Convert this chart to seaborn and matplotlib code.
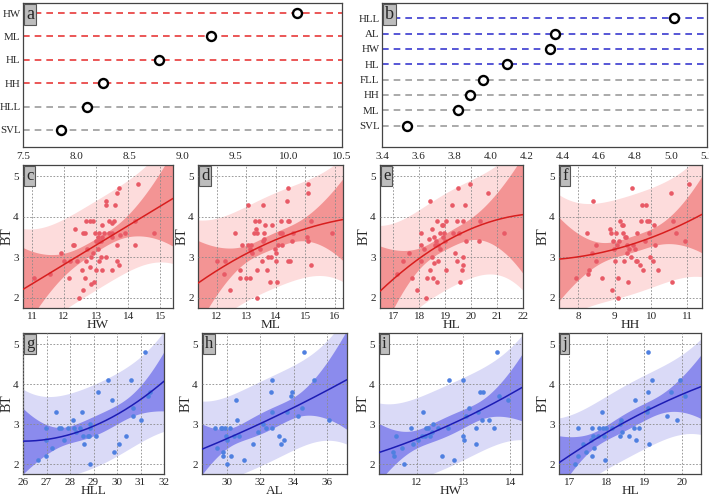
import numpy as np
import seaborn as sns
import matplotlib.pyplot as plt
from matplotlib.ticker import MultipleLocator

# ---- panel a / b : dot charts ----
a_names = ["HW", "ML", "HL", "HH", "HLL", "SVL"]
a_vals = [10.08, 9.27, 8.78, 8.25, 8.10, 7.86]
b_names = ["HLL", "AL", "HW", "HL", "FLL", "HH", "ML", "SVL"]
b_vals = [5.02, 4.36, 4.33, 4.09, 3.96, 3.89, 3.82, 3.54]

# ---- red group (c-f), BT against each trait ----
c_x = [11.05, 11.55, 11.9, 12.0, 12.15, 12.2, 12.28, 12.32, 12.35, 12.4, 12.47, 12.55, 12.6, 12.6,
       12.65, 12.65, 12.7, 12.7, 12.72, 12.8, 12.8, 12.85, 12.85, 12.9, 12.9, 12.95, 12.98, 13.0,
       13.0, 13.05, 13.05, 13.1, 13.1, 13.1, 13.15, 13.15, 13.2, 13.25, 13.3, 13.3, 13.2, 13.2,
       13.3, 13.4, 13.4, 13.5, 13.5, 13.5, 13.5, 13.55, 13.6, 13.65, 13.65, 13.65, 13.7, 13.7,
       13.75, 13.9, 14.3, 14.2, 14.2, 14.8]
c_y = [2.5, 2.6, 3.1, 2.9, 2.5, 2.9, 3.3, 3.3, 3.7, 2.9, 2.0, 2.7, 2.2, 3.6,
       3.6, 2.5, 3.9, 2.9, 3.2, 3.9, 2.75, 3.0, 2.35, 3.9, 3.1, 2.4, 3.6, 2.7,
       3.4, 3.2, 3.5, 3.4, 3.6, 2.9, 3.0, 3.4, 3.5, 3.6, 4.3, 3.0, 2.7, 3.8,
       4.4, 3.9, 3.6, 2.7, 3.6, 3.85, 3.5, 3.9, 4.3, 4.6, 3.3, 2.9, 2.8, 4.7,
       3.55, 3.6, 4.8, 3.9, 3.3, 3.6]

d_x = [12.0, 12.26, 12.28, 12.45, 12.62, 12.8, 12.8, 12.85, 13.0, 13.05, 13.07, 13.13, 13.13,
       13.15, 13.16, 13.18, 13.26, 13.3, 13.33, 13.35, 13.37, 13.38, 13.44, 13.46, 13.54, 13.58,
       13.58, 13.6, 13.6, 13.63, 13.7, 13.75, 13.8, 13.83, 13.88, 13.97, 14.0, 14.0, 14.03, 14.08,
       14.15, 14.17, 14.2, 14.22, 14.37, 14.4, 14.4, 14.4, 14.45, 14.48, 14.53, 14.57, 15.04,
       15.08, 15.1, 15.1, 15.19, 15.2, 15.9]
d_y = [2.9, 2.6, 2.9, 2.2, 3.6, 2.7, 2.5, 3.3, 2.5, 4.3, 3.3, 2.5, 3.2,
       3.3, 3.15, 3.1, 3.6, 3.9, 3.7, 2.7, 2.0, 3.6, 3.9, 3.2, 2.9, 3.4,
       4.3, 3.45, 3.6, 3.8, 2.7, 3.0, 2.4, 3.0, 3.8, 3.2, 2.9, 3.1, 2.4, 3.3,
       3.6, 3.9, 3.3, 3.6, 4.4, 4.7, 3.9, 2.9, 3.9, 2.9, 3.4, 3.6, 3.5,
       3.4, 4.8, 4.6, 3.9, 2.8, 3.6]

e_x = [17.13, 17.37, 17.59, 17.72, 17.90, 18.08, 18.08, 18.08, 18.17, 18.26, 18.32, 18.39, 18.42,
       18.42, 18.48, 18.51, 18.55, 18.58, 18.58, 18.61, 18.65, 18.67, 18.70, 18.74, 18.74, 18.79,
       18.81, 18.88, 18.90, 18.93, 18.97, 18.99, 19.03, 19.05, 19.27, 19.32, 19.38, 19.45, 19.47,
       19.50, 19.54, 19.59, 19.64, 19.67, 19.70, 19.70, 19.76, 19.81, 19.94, 20.32, 20.35, 20.65,
       21.27]
e_y = [2.6, 2.9, 3.1, 2.5, 2.2, 2.9, 3.6, 3.3, 3.2, 2.0, 2.5, 3.45, 4.4,
       2.7, 3.7, 3.0, 2.5, 3.5, 2.85, 3.3, 3.4, 2.4, 3.9, 3.3, 2.9, 3.2,
       3.6, 3.8, 3.5, 3.8, 3.6, 3.4, 3.9, 2.7, 4.3, 3.6, 3.1, 2.9, 3.9,
       4.7, 3.6, 2.4, 2.7, 2.8, 3.9, 3.0, 4.3, 3.4, 4.8, 3.4, 3.9, 4.6,
       3.6]

f_x = [7.94, 8.23, 8.28, 8.3, 8.37, 8.41, 8.49, 8.49, 8.64, 8.87, 8.9, 8.92, 8.96, 8.98, 9.0,
       9.05, 9.07, 9.1, 9.1, 9.13, 9.15, 9.19, 9.22, 9.24, 9.26, 9.28, 9.31, 9.33, 9.35, 9.36,
       9.4, 9.45, 9.47, 9.51, 9.56, 9.59, 9.6, 9.62, 9.7, 9.72, 9.74, 9.79, 9.83, 9.86, 9.88,
       9.93, 9.95, 9.97, 10.05, 10.08, 10.11, 10.2, 10.55, 10.57, 10.61, 10.69, 10.92, 11.03]
f_y = [2.5, 3.6, 2.6, 2.7, 3.1, 4.4, 3.3, 2.9, 2.5, 3.7, 3.6, 2.2, 3.4, 3.2, 2.9,
       3.6, 3.3, 2.0, 2.5, 3.4, 3.9, 3.8, 3.6, 3.8, 2.9, 3.5, 3.5, 3.3, 3.1, 2.4,
       3.2, 3.0, 4.7, 3.3, 3.2, 2.9, 3.6, 2.9, 2.8, 3.9, 4.3, 2.7, 3.4, 4.3, 3.9,
       3.6, 3.9, 3.0, 2.9, 3.8, 3.3, 2.7, 4.6, 2.4, 3.9, 3.6, 3.4, 4.8]

# ---- blue group (g-j) ----
g_x = [26.64, 26.96, 26.99, 26.99, 27.25, 27.42, 27.53, 27.63, 27.73, 27.91, 28.13, 28.16,
       28.24, 28.41, 28.52, 28.55, 28.58, 28.77, 28.81, 28.84, 28.84, 28.87, 29.09, 29.19,
       29.62, 29.8, 29.87, 30.09, 30.4, 30.61, 30.68, 30.7, 31.04, 31.18, 31.32, 31.42]
g_y = [2.1, 2.2, 2.9, 2.6, 2.4, 3.3, 2.9, 2.9, 2.6, 2.9, 3.1, 2.9,
       2.8, 2.9, 3.3, 2.7, 2.5, 2.7, 2.7, 2.0, 3.0, 2.9, 2.7, 3.8,
       4.1, 3.6, 2.3, 2.5, 2.7, 4.1, 3.2, 3.4, 3.1, 4.8, 3.7, 3.8]

h_x = [29.3, 29.4, 29.66, 29.74, 29.8, 29.8, 29.9, 29.94, 30.0, 30.0, 30.2, 30.26, 30.46,
       30.56, 30.6, 30.74, 31.06, 31.6, 31.9, 32.2, 32.34, 32.66, 32.7, 32.74, 32.74, 33.1,
       33.26, 33.4, 33.6, 33.86, 33.9, 34.26, 34.5, 34.6, 35.2, 36.1]
h_y = [2.9, 2.4, 2.9, 2.9, 2.3, 2.2, 2.9, 2.7, 2.0, 2.6, 2.9, 2.2, 2.7,
       3.6, 3.1, 2.7, 2.1, 2.5, 2.8, 3.0, 2.9, 3.8, 2.9, 4.1, 3.3, 2.7,
       2.5, 2.6, 3.3, 3.7, 3.8, 3.2, 3.4, 4.8, 4.1, 3.1]

i_x = [11.49, 11.53, 11.56, 11.68, 11.73, 11.89, 11.93, 12.04, 12.11, 12.14, 12.18, 12.2,
       12.25, 12.28, 12.32, 12.35, 12.46, 12.55, 12.67, 12.69, 12.81, 12.99, 13.0, 13.02,
       13.05, 13.13, 13.27, 13.27, 13.31, 13.36, 13.41, 13.39, 13.55, 13.66, 13.71, 13.77, 13.96]
i_y = [2.3, 2.2, 2.7, 2.4, 2.0, 2.9, 2.5, 2.6, 2.7, 3.3, 2.7, 2.9,
       2.9, 2.7, 2.8, 3.0, 2.9, 2.2, 2.9, 4.1, 2.1, 4.1, 2.7, 2.6,
       3.2, 3.4, 2.5, 2.9, 3.3, 3.8, 3.8, 3.1, 3.1, 2.9, 4.8, 3.7, 3.6]

j_x = [17.15, 17.24, 17.24, 17.37, 17.45, 17.58, 17.6, 17.6, 17.62, 17.66, 17.77, 17.8, 17.86,
       17.91, 17.93, 17.95, 17.98, 18.13, 18.34, 18.35, 18.37, 18.4, 18.6, 18.73, 18.75, 18.78,
       18.87, 19.08, 19.11, 19.11, 19.11, 19.14, 19.2, 19.62, 19.73, 19.89, 19.97, 20.09]
j_y = [2.0, 2.2, 2.9, 2.5, 2.3, 2.6, 2.2, 2.9, 2.7, 2.4, 2.7, 2.9, 3.3,
       2.9, 2.7, 2.1, 2.9, 2.9, 3.0, 2.7, 3.1, 2.8, 2.7, 2.9, 3.6, 2.6,
       2.9, 3.3, 4.8, 3.8, 3.4, 2.5, 4.1, 3.2, 3.8, 3.1, 4.1, 3.7]

RED = dict(light="#fddcdc", dark="#f39494", line="#d81e1e", dot="#e85a66")
BLUE = dict(light="#dadaf7", dark="#8b8bed", line="#1c1cb4", dot="#4f80e0")

sns.set_style("white")
plt.rcParams['font.family'] = ['Liberation Serif', 'DejaVu Serif']

W, H = 709, 497
fig = plt.figure(figsize=(W / 100, H / 100), dpi=100)


def rect(x0, y0, x1, y1):
    return [x0 / W, 1 - y1 / H, (x1 - x0) / W, (y1 - y0) / H]


def tag(ax, s, fs):
    ax.annotate(s, xy=(0, 1), xycoords='axes fraction', xytext=(2.2, -2), textcoords='offset points',
                ha='left', va='top', fontsize=fs, zorder=10,
                bbox=dict(boxstyle='square,pad=0.12', fc='#bdbdbd', ec='#555555', lw=0.8))


def style_spines(ax):
    for sp in ax.spines.values():
        sp.set_color('#444444')
        sp.set_linewidth(0.9)


def dot_panel(ax, names, vals, n_hi, hi, xlim, ylim, major, minor, label):
    pos = np.arange(len(names))[::-1]
    for i, p in enumerate(pos):
        ax.axhline(p, color=hi if i < n_hi else '#9c9c9c', ls=(0, (4, 3)), lw=1.2, zorder=1)
    sns.scatterplot(x=vals, y=pos, ax=ax, s=42, color='white', edgecolor='black',
                    linewidth=1.7, zorder=3)
    ax.set_xlim(*xlim)
    ax.set_ylim(*ylim)
    ax.set_yticks(pos)
    ax.set_yticklabels(names)
    ax.xaxis.set_major_locator(MultipleLocator(major))
    ax.xaxis.set_minor_locator(MultipleLocator(minor))
    ax.tick_params(axis='x', which='major', length=2.5, width=0.6, pad=1, labelsize=8)
    ax.tick_params(axis='x', which='minor', length=1.5, width=0.5)
    ax.tick_params(axis='y', length=1, width=0.6, pad=0.8, labelsize=7.8)
    style_spines(ax)
    tag(ax, label, 13)


def fit_panel(ax, x, y, col, xlim, xstep, xlabel, label):
    x = np.asarray(x, float)
    y = np.asarray(y, float)
    X = np.column_stack([np.ones_like(x), x, x ** 2])
    beta = np.linalg.lstsq(X, y, rcond=None)[0]
    res = y - X @ beta
    s2 = res @ res / (len(x) - 3)
    cov = s2 * np.linalg.inv(X.T @ X)
    gx = np.linspace(xlim[0], xlim[1], 200)
    G = np.column_stack([np.ones_like(gx), gx, gx ** 2])
    fit = G @ beta
    se = np.sqrt(np.einsum('ij,jk,ik->i', G, cov, G))
    t = 2.02
    pi = t * np.sqrt(s2 + se ** 2)
    ci = t * se
    ax.fill_between(gx, fit - pi, fit + pi, color=col['light'], lw=0, zorder=0.5)
    ax.fill_between(gx, fit - ci, fit + ci, color=col['dark'], lw=0, zorder=0.6)
    sns.scatterplot(x=x, y=y, ax=ax, color=col['dot'], s=11, linewidth=0, zorder=3)
    sns.lineplot(x=gx, y=fit, ax=ax, color=col['line'], lw=1.1, zorder=4)
    ax.set_xlim(*xlim)
    ax.set_ylim(1.75, 5.28)
    ax.xaxis.set_major_locator(MultipleLocator(xstep))
    ax.set_yticks([2, 3, 4, 5])
    ax.grid(True, ls=(0, (2, 2)), color='#8a8a8a', lw=0.6)
    ax.set_axisbelow(False)
    ax.tick_params(axis='both', length=2, width=0.6, pad=1, labelsize=8)
    ax.set_xlabel(xlabel, fontsize=9.5, labelpad=-1.5)
    ax.set_ylabel('BT', fontsize=10, labelpad=-0.5)
    style_spines(ax)
    tag(ax, label, 12)


ax_a = fig.add_axes(rect(23, 3, 342, 147))
dot_panel(ax_a, a_names, a_vals, 4, '#e8393a', (7.5, 10.5), (-0.73, 5.43), 0.5, 0.25, 'a')
ax_b = fig.add_axes(rect(382, 3, 707, 147))
dot_panel(ax_b, b_names, b_vals, 4, '#3a3ad0', (3.4, 5.2), (-1.4, 8.0), 0.2, 0.1, 'b')

mid = [(c_x, c_y, (10.72, 15.4), 1, 'HW', 'c', (23, 173)),
       (d_x, d_y, (11.37, 16.27), 1, 'ML', 'd', (198, 343)),
       (e_x, e_y, (16.49, 22.0), 1, 'HL', 'e', (380, 523)),
       (f_x, f_y, (7.47, 11.4), 1, 'HH', 'f', (559, 702))]
for x, y, xl, st, xlab, lab, (l, r) in mid:
    ax = fig.add_axes(rect(l, 165, r, 308))
    fit_panel(ax, x, y, RED, xl, st, xlab, lab)

bot = [(g_x, g_y, (26.0, 32.0), 1, 'HLL', 'g', (23, 164)),
       (h_x, h_y, (28.52, 37.2), 2, 'AL', 'h', (202, 347)),
       (i_x, i_y, (11.2, 14.25), 1, 'HW', 'i', (379, 522)),
       (j_x, j_y, (16.72, 20.52), 1, 'HL', 'j', (559, 701))]
for x, y, xl, st, xlab, lab, (l, r) in bot:
    ax = fig.add_axes(rect(l, 333, r, 474))
    fit_panel(ax, x, y, BLUE, xl, st, xlab, lab)

fig.savefig('out.png', dpi=100)
